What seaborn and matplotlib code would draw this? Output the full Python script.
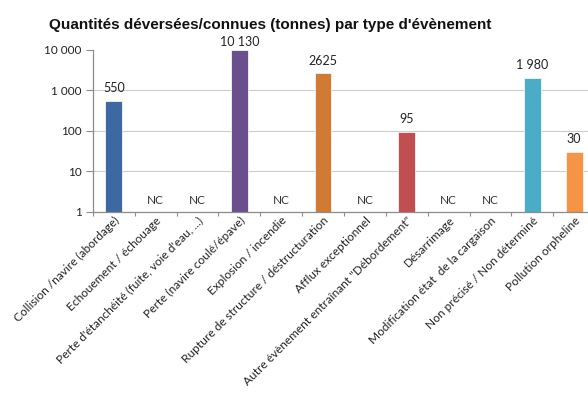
import numpy as np
import pandas as pd
import matplotlib
matplotlib.use("Agg")
import matplotlib.pyplot as plt
import seaborn as sns

categories = [
    "Collision /navire (abordage)",
    "Echouement / échouage",
    "Perte d'étanchéité (fuite, voie d'eau, ...)",
    "Perte (navire coulé/épave)",
    "Explosion / incendie",
    "Rupture de structure / déstructuration",
    "Afflux exceptionnel",
    "Autre évènement entraînant \"Débordement\"",
    "Désarrimage",
    "Modification état  de la cargaison",
    "Non précisé / Non déterminé",
    "Pollution orpheline",
]
# tonnes; None = not known (NC)
values = [550, None, None, 10130, None, 2625, None, 95, None, None, 1980, 30]
value_labels = ["550", "NC", "NC", "10 130", "NC", "2625", "NC", "95", "NC", "NC", "1 980", "30"]
bar_colors = ["#3E68A2", "#9a9a9a", "#9a9a9a", "#6B4E8C", "#9a9a9a", "#D07A33",
              "#9a9a9a", "#C24F4F", "#9a9a9a", "#9a9a9a", "#4AACC6", "#F69446"]
y_ticks = [1, 10, 100, 1000, 10000]
y_tick_labels = ["1", "10", "100", "1 000", "10 000"]
title = "Quantités déversées/connues (tonnes) par type d'évènement"

sns.set_theme(style="white")
plt.rcParams["font.family"] = ["Lato", "DejaVu Sans"]

df = pd.DataFrame({"type": categories,
                   "tonnes": [np.nan if v is None else v for v in values]})

fig = plt.figure(figsize=(5.88, 3.94), dpi=100)
# a little headroom above 10 000 so the tallest bar is not cut
ymax = 10500
ax = fig.add_axes([0.158, 0.462, 0.854, 0.4135])

sns.barplot(data=df, x="type", y="tonnes", hue="type", order=categories,
            hue_order=categories, palette=dict(zip(categories, bar_colors)),
            saturation=1, legend=False, width=0.4, ax=ax,
            edgecolor="#f4f4f4", linewidth=0.6)
ax.set_yscale("log")
ax.set_ylim(1, ymax)
ax.set_xlim(-0.5, len(categories) - 0.5)

# value / NC labels; labels near the top of the plot area sit closer to their bar
for i, (v, lab) in enumerate(zip(values, value_labels)):
    if v is None:
        ax.annotate(lab, (i, 1), xytext=(0, 4.5), textcoords="offset points",
                    ha="center", va="bottom", fontsize=8.5, color="#333333")
    else:
        dy = 1.5 if v > 5000 else 5
        ax.annotate(lab, (i, v), xytext=(0, dy), textcoords="offset points",
                    ha="center", va="bottom", fontsize=9, color="#222222")

# y axis
ax.set_yticks(y_ticks)
ax.set_yticklabels(y_tick_labels)
ax.yaxis.set_minor_locator(matplotlib.ticker.NullLocator())
ax.tick_params(axis="y", which="major", direction="out", length=5, width=0.8,
               color="#8c8c8c", labelsize=8.5, labelcolor="#222222", left=True, pad=3)
ax.yaxis.grid(True, color="#cccccc", linewidth=0.8)
ax.yaxis.get_gridlines()[-1].set_visible(False)
ax.set_axisbelow(True)

# x axis: labels at centres, tick marks at category boundaries
ax.set_xticks(range(len(categories)))
ax.set_xticklabels(categories, rotation=45, ha="right", rotation_mode="anchor",
                   fontsize=8.6, color="#222222")
ax.set_xticks(np.arange(-0.5, len(categories) + 0.5, 1), minor=True)
ax.tick_params(axis="x", which="major", length=0, pad=2)
ax.tick_params(axis="x", which="minor", direction="out", length=3, width=0.8,
               color="#8c8c8c", bottom=True)
ax.set_xlabel("")
ax.set_ylabel("")

for s in ["top", "right"]:
    ax.spines[s].set_visible(False)
for s in ["left", "bottom"]:
    ax.spines[s].set_color("#8c8c8c")
    ax.spines[s].set_linewidth(0.9)
ax.spines["left"].set_bounds(1, 10000)

fig.text(0.459, 0.936, title, ha="center", va="center", fontsize=11,
         fontweight="bold", family=["Liberation Sans", "DejaVu Sans"], color="#111111")

fig.savefig("out.png", dpi=100)
